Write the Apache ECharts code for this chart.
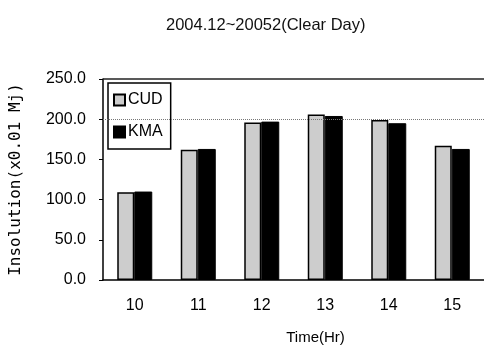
<!DOCTYPE html>
<html>
<head>
<meta charset="utf-8">
<script src="https://cdn.jsdelivr.net/npm/echarts@6/dist/echarts.min.js"></script>
<style>
  html, body { margin: 0; padding: 0; background: #fff; }
  #main { width: 484px; height: 351px; }
</style>
</head>
<body>
<div id="main"></div>
<script>
var myChart = echarts.init(document.getElementById('main'));

var hours = ['10', '11', '12', '13', '14', '15'];
var cud = [109, 162, 196, 206, 199, 167];
var kma = [110, 163, 197, 204, 195, 163];

var option = {
    animation: false,
    title: {
        text: '2004.12~20052(Clear Day)',
        left: 161,
        top: 12,
        textStyle: {
            fontFamily: 'Liberation Sans',
            fontSize: 16.5,
            fontWeight: 'normal',
            color: '#111'
        }
    },
    legend: {
        orient: 'vertical',
        left: 108,
        top: 83,
        padding: [9, 8, 9, 5],
        itemGap: 16,
        itemWidth: 11,
        itemHeight: 11,
        borderColor: '#000',
        borderWidth: 1.5,
        backgroundColor: '#fff',
        icon: 'rect',
        textStyle: {
            fontFamily: 'Liberation Sans',
            fontSize: 16,
            color: '#000',
            padding: [0, 0, 0, -2]
        },
        data: ['CUD', 'KMA']
    },
    grid: {
        left: 103,
        top: 79,
        right: -2,
        bottom: 71
    },
    xAxis: {
        type: 'category',
        data: hours,
        name: 'Time(Hr)',
        nameLocation: 'middle',
        nameGap: 50,
        nameTextStyle: {
            fontFamily: 'Liberation Sans',
            fontSize: 15,
            color: '#000',
            padding: [0, 0, 0, 44]
        },
        axisLine: { lineStyle: { color: '#000', width: 1.5 } },
        axisTick: { inside: true, length: 3, lineStyle: { color: '#000' } },
        axisLabel: {
            fontFamily: 'Liberation Sans',
            fontSize: 16,
            color: '#000',
            margin: 18
        }
    },
    yAxis: {
        type: 'value',
        min: 0,
        max: 250,
        interval: 50,
        name: 'Insolution(x0.01 Mj)',
        nameLocation: 'middle',
        nameGap: 79,
        nameTextStyle: {
            fontFamily: 'DejaVu Sans Mono',
            fontSize: 16,
            color: '#000'
        },
        axisLine: { show: true, lineStyle: { color: '#000', width: 1.5 } },
        axisTick: { show: true, length: 4, lineStyle: { color: '#000' } },
        splitLine: { show: false },
        axisLabel: {
            fontFamily: 'Liberation Sans',
            fontSize: 16,
            color: '#000',
            margin: 17,
            formatter: function (v) { return v.toFixed(1); }
        }
    },
    series: [{
        name: 'CUD',
        type: 'bar',
        data: cud,
        barWidth: 17,
        barGap: '0%',
        itemStyle: { color: '#cdcdcd', borderColor: '#000', borderWidth: 1.5 },
        markLine: {
            silent: true,
            symbol: 'none',
            label: { show: false },
            data: [
                { yAxis: 200, lineStyle: { color: '#777', type: 'dotted', width: 1 } },
                { yAxis: 250, lineStyle: { color: '#222', type: 'solid', width: 1.5 } }
            ]
        }
    }, {
        name: 'KMA',
        type: 'bar',
        data: kma,
        barWidth: 18,
        itemStyle: { color: '#000', borderColor: '#000', borderWidth: 1 }
    }]
};

myChart.setOption(option);
</script>
</body>
</html>
